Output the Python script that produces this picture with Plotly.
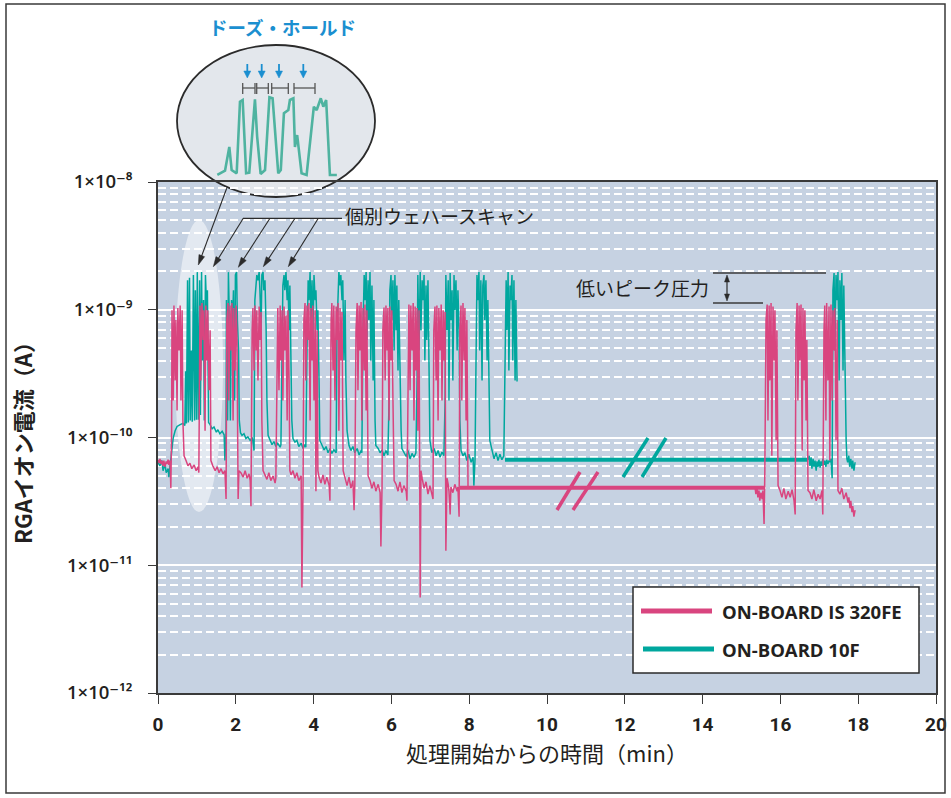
import math
import plotly.graph_objects as go

# ---------------- data (time in min, current in units of 1e-10 A) ----------------
UNIT = 1e-10

teal_main = [
    (0.00,0.64),(0.05,0.60),(0.10,0.66),(0.13,0.55),(0.18,0.62),(0.21,0.53),(0.26,0.57),(0.28,0.49),(0.31,0.60),
    (0.36,0.79),(0.39,0.99),(0.44,1.13),(0.49,1.22),(0.57,1.26),(0.64,1.29),(0.69,1.24),
    (0.71,3.3),(0.73,1.29),(0.76,17),(0.78,1.31),(0.81,17.8),(0.83,1.36),(0.86,4.8),(0.88,1.33),(0.91,18.7),(0.94,1.36),
    (0.96,14.2),(0.99,1.38),(1.01,19.7),(1.04,1.38),(1.07,17),(1.09,1.5),(1.12,19.7),(1.14,4.0),(1.17,11.9),(1.19,1.36),
    (1.22,18.7),(1.25,9.9),(1.27,14.2),(1.30,1.31),
    (1.34,1.26),(1.39,1.17),(1.44,1.21),(1.50,1.10),(1.54,1.15),(1.59,1.07),(1.65,1.12),(1.70,1.05),(1.72,0.66),(1.75,1.12),
    (1.76,11.9),(1.79,1.36),(1.81,19.7),(1.84,6.9),(1.86,1.36),(1.89,11.9),(1.91,6.9),(1.94,14.2),(1.97,1.95),(1.99,18.7),
    (2.02,19.7),(2.04,8.3),(2.07,4.8),(2.09,1.36),(2.12,1.09),
    (2.16,1.04),(2.21,1.07),(2.26,0.98),(2.31,1.01),(2.37,0.95),(2.42,1.0),(2.44,0.93),(2.47,0.79),
    (2.49,11.9),(2.52,15.5),(2.54,18.7),(2.57,17),(2.60,19.7),(2.62,14.2),(2.65,6.9),(2.67,18.7),(2.70,19.7),(2.72,14.2),
    (2.75,17),(2.78,6.9),(2.80,1.95),(2.83,1.04),
    (2.88,0.95),(2.93,0.88),(2.98,0.93),(3.03,0.85),(3.08,0.9),(3.14,0.84),(3.16,0.88),
    (3.19,6.9),(3.21,15.5),(3.24,18.7),(3.26,14.2),(3.29,19.7),(3.32,11.9),(3.34,17),(3.37,6.9),(3.39,15.5),(3.42,4.8),
    (3.44,1.36),(3.47,0.98),
    (3.52,0.92),(3.57,0.95),(3.62,0.85),(3.68,0.9),(3.73,0.82),(3.78,0.88),(3.80,0.84),
    (3.83,4.8),(3.86,17),(3.88,11.9),(3.91,19.7),(3.93,8.3),(3.96,17),(3.98,5.8),(4.01,18.7),(4.04,11.9),(4.06,14.2),
    (4.09,6.9),(4.11,9.9),(4.14,2.8),(4.16,0.95),
    (4.22,0.865),(4.27,0.80),(4.32,0.85),(4.37,0.76),(4.42,0.82),(4.47,0.75),(4.52,0.80),(4.58,0.76),
    (4.60,6.9),(4.63,14.2),(4.65,19.7),(4.68,15.5),(4.70,18.7),(4.73,11.9),(4.75,17),(4.78,4.0),(4.81,11.9),(4.83,2.8),(4.86,1.13),
    (4.91,0.865),(4.96,0.79),(5.01,0.85),(5.06,0.76),(5.12,0.82),(5.17,0.73),(5.22,0.79),(5.24,0.76),
    (5.27,6.9),(5.30,18.7),(5.32,11.9),(5.35,19.7),(5.37,5.8),(5.40,17),(5.42,8.3),(5.45,19.7),(5.47,4.0),(5.50,15.5),
    (5.53,2.8),(5.55,11.9),(5.58,1.36),(5.60,0.865),
    (5.66,0.82),(5.71,0.76),(5.76,0.80),(5.81,0.72),(5.86,0.79),(5.91,0.73),
    (5.94,1.95),(5.96,14.2),(5.99,18.7),(6.01,8.3),(6.04,17),(6.07,4.8),(6.09,18.7),(6.12,6.9),(6.14,15.5),(6.17,3.35),
    (6.19,11.9),(6.22,2.8),(6.25,1.13),(6.27,0.82),
    (6.32,0.76),(6.38,0.71),(6.43,0.79),(6.48,0.68),(6.53,0.75),(6.58,0.70),(6.63,0.76),
    (6.66,2.8),(6.68,18.7),(6.71,4.8),(6.74,19.7),(6.76,6.9),(6.79,17),(6.81,11.9),(6.84,18.7),(6.86,4.0),(6.89,15.5),
    (6.91,5.8),(6.94,17),(6.96,2.8),(6.99,0.95),
    (7.04,0.76),(7.10,0.82),(7.15,0.72),(7.20,0.79),(7.25,0.70),(7.30,0.77),(7.35,0.72),
    (7.38,1.95),(7.40,18.7),(7.43,6.9),(7.46,17),(7.48,1.95),(7.51,19.4),(7.53,8.3),(7.56,14.2),(7.58,2.8),(7.61,18.7),
    (7.63,9.9),(7.66,17),(7.69,4.8),(7.71,14.2),(7.74,6.9),(7.76,1.36),(7.79,0.79),
    (7.84,0.72),(7.89,0.76),(7.94,0.66),(7.99,0.74),(8.05,0.64),(8.10,0.70),(8.12,0.42),(8.15,0.68),
    (8.17,2.8),(8.20,18.7),(8.22,11.9),(8.25,19.7),(8.27,4.8),(8.30,17),(8.33,2.8),(8.35,15.5),(8.38,18.7),(8.40,8.3),
    (8.43,17),(8.46,4.0),(8.48,11.9),(8.51,2.65),(8.53,0.95),
    (8.59,0.79),(8.64,0.68),(8.69,0.76),(8.74,0.66),(8.79,0.74),(8.84,0.67),(8.89,0.72),
    (8.92,4.8),(8.95,17),(8.97,6.9),(9.00,19.7),(9.02,3.35),(9.05,15.5),(9.07,11.9),(9.10,18.7),(9.12,4.0),(9.15,17),
    (9.18,2.8),(9.20,11.9),(9.23,2.74),
]

teal_hold = [(8.92, 0.67), (16.71, 0.67)]

teal_late = [
    (16.71,0.67),(16.74,0.72),(16.76,0.60),(16.79,0.70),(16.81,0.57),(16.84,0.68),(16.86,0.59),(16.89,0.66),(16.92,0.55),
    (16.94,0.65),(16.97,0.59),(16.99,0.67),(17.02,0.58),(17.04,0.65),(17.07,0.60),(17.09,0.68),(17.12,0.61),(17.14,0.66),
    (17.17,0.59),(17.19,0.67),(17.22,0.62),(17.25,0.66),(17.27,0.64),(17.30,0.68),(17.33,0.48),
    (17.35,14.2),(17.38,19.4),(17.40,4.8),(17.43,18.7),(17.46,11.9),(17.48,19.7),(17.51,2.8),(17.53,17),(17.56,8.3),
    (17.58,19.4),(17.61,3.35),(17.63,15.5),(17.66,2.65),(17.69,0.95),
    (17.71,0.68),(17.73,0.64),(17.76,0.72),(17.78,0.59),(17.81,0.68),(17.84,0.57),(17.86,0.66),(17.89,0.55),(17.92,0.64),
]

pink_main = [
    (0.00,0.67),(0.03,0.63),(0.05,0.68),(0.08,0.62),(0.10,0.66),(0.13,0.60),(0.15,0.66),(0.18,0.59),(0.21,0.65),(0.23,0.62),
    (0.26,0.67),(0.28,0.61),(0.31,0.66),(0.33,0.40),(0.35,1.13),
    (0.36,9.9),(0.39,1.95),(0.41,10.8),(0.44,2.8),(0.46,8.3),(0.49,1.63),(0.51,10.3),(0.54,4.8),(0.57,10.8),(0.59,1.95),
    (0.62,9.9),(0.64,1.36),(0.67,0.72),
    (0.72,0.66),(0.77,0.60),(0.82,0.63),(0.87,0.57),(0.93,0.61),(0.98,0.55),(1.03,0.59),(1.05,0.53),
    (1.08,10.8),(1.10,2.8),(1.13,11.3),(1.16,5.8),(1.18,9.9),(1.21,1.13),(1.23,10.8),(1.26,4.0),(1.28,9.9),(1.31,2.34),
    (1.34,6.9),(1.36,0.66),
    (1.41,0.60),(1.47,0.55),(1.52,0.59),(1.57,0.53),(1.62,0.57),(1.67,0.52),(1.72,0.55),(1.75,0.33),
    (1.77,8.3),(1.80,11.3),(1.82,1.95),(1.85,10.8),(1.88,4.8),(1.90,11.3),(1.93,1.36),(1.95,10.3),(1.98,3.35),(2.01,10.8),
    (2.03,5.8),(2.06,0.33),(2.08,0.55),
    (2.13,0.53),(2.19,0.49),(2.24,0.55),(2.29,0.48),(2.34,0.52),(2.37,0.46),(2.39,0.29),
    (2.42,6.9),(2.44,10.3),(2.47,3.35),(2.49,10.8),(2.52,4.8),(2.54,9.9),(2.57,2.8),(2.60,10.6),(2.62,5.8),(2.65,9.6),
    (2.67,1.36),(2.70,0.55),
    (2.75,0.51),(2.80,0.47),(2.85,0.53),(2.90,0.46),(2.96,0.50),(3.01,0.44),(3.03,0.48),
    (3.06,5.8),(3.08,10.3),(3.11,2.34),(3.14,10.8),(3.16,4.0),(3.19,9.9),(3.21,1.95),(3.24,10.6),(3.26,4.8),(3.29,9.0),
    (3.32,1.36),(3.34,9.9),(3.37,2.8),(3.39,0.55),
    (3.42,0.51),(3.47,0.55),(3.52,0.48),(3.57,0.53),(3.62,0.46),(3.68,0.50),(3.70,0.067),(3.73,0.46),
    (3.75,8.3),(3.78,11.3),(3.80,2.8),(3.83,10.8),(3.86,5.8),(3.88,11.3),(3.91,1.36),(3.93,10.3),(3.96,4.0),(3.98,10.8),
    (4.01,1.95),(4.04,9.9),(4.06,0.38),(4.09,6.9),(4.11,0.55),
    (4.14,0.49),(4.19,0.44),(4.24,0.51),(4.29,0.43),(4.34,0.49),(4.40,0.42),(4.42,0.32),
    (4.45,8.3),(4.47,11.3),(4.50,3.35),(4.52,10.8),(4.55,1.95),(4.58,10.6),(4.60,5.8),(4.63,11.3),(4.65,1.13),(4.68,10.3),
    (4.70,4.0),(4.73,9.6),(4.76,0.55),
    (4.81,0.48),(4.86,0.42),(4.91,0.49),(4.96,0.40),(5.01,0.46),(5.04,0.27),(5.06,0.43),
    (5.09,6.9),(5.12,11.3),(5.14,2.34),(5.17,10.8),(5.19,4.8),(5.22,11.5),(5.24,1.36),(5.27,10.3),(5.30,3.35),(5.32,11.0),
    (5.35,1.63),(5.37,9.9),(5.40,0.50),
    (5.45,0.46),(5.50,0.40),(5.55,0.45),(5.60,0.38),(5.66,0.43),(5.71,0.37),(5.73,0.14),(5.76,0.42),
    (5.78,6.9),(5.81,10.4),(5.84,2.8),(5.86,10.8),(5.89,4.8),(5.91,10.3),(5.94,1.36),(5.96,10.6),(5.99,4.0),(6.01,9.9),
    (6.04,1.95),(6.07,0.46),
    (6.12,0.43),(6.17,0.38),(6.22,0.45),(6.27,0.37),(6.32,0.42),(6.38,0.38),(6.40,0.32),
    (6.43,8.3),(6.45,11.0),(6.48,2.34),(6.50,10.8),(6.53,4.8),(6.56,11.3),(6.58,1.36),(6.61,10.6),(6.63,3.35),(6.66,10.3),
    (6.68,1.13),(6.71,9.9),(6.74,0.056),(6.76,0.55),
    (6.79,0.48),(6.84,0.40),(6.89,0.45),(6.94,0.36),(6.99,0.42),(7.04,0.37),(7.07,0.33),
    (7.09,6.9),(7.12,10.6),(7.15,2.8),(7.17,10.8),(7.20,1.36),(7.22,10.3),(7.25,4.8),(7.28,11.0),(7.30,1.95),(7.33,9.9),
    (7.35,4.0),(7.38,9.6),(7.40,0.13),(7.43,0.48),
    (7.46,0.43),(7.48,0.38),(7.51,0.25),(7.53,0.41),(7.58,0.37),(7.63,0.43),(7.69,0.38),(7.71,0.41),(7.74,0.24),
    (7.76,6.9),(7.79,10.8),(7.81,1.95),(7.84,11.3),(7.87,4.0),(7.89,10.3),(7.92,1.36),(7.94,8.3),(7.97,0.405),
]

pink_hold = [(7.76, 0.405), (15.60, 0.405)]

pink_late = [
    (15.35,0.40),(15.37,0.36),(15.40,0.405),(15.42,0.34),(15.45,0.385),(15.47,0.32),(15.50,0.37),(15.53,0.33),(15.55,0.385),
    (15.58,0.21),(15.60,0.55),
    (15.63,8.3),(15.66,11.0),(15.68,1.36),(15.71,10.8),(15.73,2.8),(15.76,11.3),(15.78,0.72),(15.81,10.6),(15.84,4.0),
    (15.86,9.9),(15.89,0.95),(15.91,6.9),(15.94,0.42),
    (15.99,0.385),(16.04,0.34),(16.09,0.40),(16.14,0.33),(16.20,0.38),(16.25,0.34),(16.30,0.39),(16.35,0.32),(16.38,0.25),
    (16.40,6.9),(16.43,11.3),(16.45,1.95),(16.48,10.8),(16.50,4.0),(16.53,11.0),(16.56,0.79),(16.58,10.3),(16.61,2.8),
    (16.63,9.9),(16.66,1.36),(16.68,5.8),(16.71,0.385),
    (16.76,0.37),(16.81,0.33),(16.86,0.39),(16.92,0.32),(16.97,0.36),(17.02,0.33),(17.07,0.385),(17.09,0.25),
    (17.12,6.9),(17.14,10.8),(17.17,1.36),(17.19,11.3),(17.22,2.8),(17.25,10.6),(17.27,0.66),(17.30,11.0),(17.33,1.95),
    (17.35,9.9),(17.38,4.8),(17.40,10.3),(17.43,0.95),(17.46,8.3),(17.48,0.385),
    (17.53,0.36),(17.58,0.40),(17.63,0.33),(17.69,0.37),(17.74,0.31),(17.76,0.34),(17.79,0.28),(17.81,0.32),(17.84,0.26),
    (17.86,0.29),(17.89,0.24),(17.92,0.27),
]

# zoomed inset ("dose / hold"), time in s, current in 1e-10 A
inset_trace = [
    (1.05,1.21),(3.5,1.42),(4.86,3.5),(5.6,1.46),(7.2,1.29),(8.25,19.5),(9.1,20.8),(10.2,1.29),(11.2,1.32),(13.0,21.3),
    (13.7,5.2),(14.8,1.26),(16.2,1.46),(17.6,23.0),(18.6,22.2),(20.4,1.29),(21.2,1.46),(22.2,12.6),(23.6,14.2),(24.1,20.8),
    (25.2,22.2),(25.7,3.5),(26.4,5.5),(27.8,1.29),(29.4,1.21),(31.7,16.1),(32.6,14.2),(33.9,22.2),(34.7,16.1),(35.6,20.8),
    (36.8,1.21),(39.0,1.21),
]

x_ticks = list(range(0, 21, 2))
y_tickvals = [1e-12, 1e-11, 1e-10, 1e-9, 1e-8]
y_ticktext = ["1×10⁻¹²", "1×10⁻¹¹", "1×10⁻¹⁰", "1×10⁻⁹", "1×10⁻⁸"]

series_names = ["ON-BOARD IS 320FE", "ON-BOARD 10F"]
PINK = "#d9457f"
TEAL = "#00a79e"
INSET_TEAL = "#4fb3a0"
BLUE = "#1b8fd0"
INK = "#231f20"
DARK = "#2b2b2b"
PLOT_BG = "#c6d2e2"

# ---------------- geometry helpers (pixel -> paper) ----------------
W, H = 951, 798
ML, MR, MT, MB = 158, 15, 8, 105
PW, PH = W - ML - MR, H - MT - MB
PLOT_TOP = 182


def X(px):
    return (px - ML) / PW


def Y(py):
    return (H - MB - py) / PH


def split(pairs):
    return [p[0] for p in pairs], [p[1] * UNIT for p in pairs]


def arrow(hx, hy, tx, ty, color, lw, hl, hw):
    dx, dy = hx - tx, hy - ty
    L = math.hypot(dx, dy)
    ux, uy = dx / L, dy / L
    bx, by = hx - ux * hl, hy - uy * hl
    px_, py_ = -uy, ux
    p1 = (bx + px_ * hw / 2, by + py_ * hw / 2)
    p2 = (bx - px_ * hw / 2, by - py_ * hw / 2)
    line = dict(type="line", xref="paper", yref="paper", x0=X(tx), y0=Y(ty), x1=X(bx + ux), y1=Y(by + uy),
                line=dict(color=color, width=lw))
    head = dict(type="path", xref="paper", yref="paper",
                path=f"M {X(hx)},{Y(hy)} L {X(p1[0])},{Y(p1[1])} L {X(p2[0])},{Y(p2[1])} Z",
                fillcolor=color, line=dict(color=color, width=0.5))
    return [line, head]


fig = go.Figure()

for data, col, w in [(teal_main, TEAL, 1.5), (teal_late, TEAL, 1.5), (teal_hold, TEAL, 4)]:
    xs, ys = split(data)
    fig.add_trace(go.Scatter(x=xs, y=ys, mode="lines", line=dict(color=col, width=w),
                             name=series_names[1], showlegend=False, hoverinfo="skip"))
for data, col, w in [(pink_main, PINK, 1.5), (pink_late, PINK, 1.5), (pink_hold, PINK, 4)]:
    xs, ys = split(data)
    fig.add_trace(go.Scatter(x=xs, y=ys, mode="lines", line=dict(color=col, width=w),
                             name=series_names[0], showlegend=False, hoverinfo="skip"))

ix = [p[0] for p in inset_trace]
iy = [p[1] for p in inset_trace]
fig.add_trace(go.Scatter(x=ix, y=iy, xaxis="x2", yaxis="y2", mode="lines",
                         line=dict(color=INSET_TEAL, width=2.6), showlegend=False, hoverinfo="skip"))

main_top = Y(PLOT_TOP)
font_cjk = "Noto Sans CJK JP"
font_num = "Open Sans, DejaVu Sans"
font_cond = "Liberation Sans Narrow, Roboto, Open Sans"

fig.update_layout(
    width=W, height=H,
    margin=dict(l=ML, r=MR, t=MT, b=MB, autoexpand=False),
    paper_bgcolor="white",
    plot_bgcolor="rgba(0,0,0,0)",
    showlegend=False,
    xaxis=dict(range=[0, 20], tickvals=x_ticks, showgrid=False, zeroline=False, automargin=False,
               showline=True, linecolor="#3a3a3a", linewidth=1.5, mirror=True,
               ticks="outside", ticklen=9, tickcolor="#3a3a3a", tickwidth=1.2,
               ticklabelstandoff=4,
               tickfont=dict(family=font_cond, size=19, color=INK, weight=700),
               title=dict(text="処理開始からの時間（min）", standoff=2,
                          font=dict(family=font_cjk, size=22, color=INK)),
               domain=[0, 1]),
    yaxis=dict(type="log", range=[-12, -8], tickvals=y_tickvals, ticktext=y_ticktext, automargin=False,
               domain=[0, main_top], showline=True, linecolor="#3a3a3a", linewidth=1.5, mirror=True,
               ticks="outside", ticklen=8, tickcolor="#3a3a3a", tickwidth=1.2,
               ticklabelstandoff=12,
               tickfont=dict(family=font_num, size=18.5, color=INK, weight=600),
               showgrid=True, gridcolor="white", gridwidth=2, zeroline=False,
               minor=dict(dtick="D1", showgrid=True, gridcolor="white", gridwidth=1.6,
                          griddash="8px,4px", ticks=""),
               title=dict(text="RGAイオン電流（A）", standoff=28,
                          font=dict(family=font_cjk, size=22, color=INK, weight=700))),
    xaxis2=dict(domain=[X(214), X(340)], range=[0, 40], anchor="y2", visible=False, automargin=False),
    yaxis2=dict(domain=[Y(180), Y(95)], type="log", range=[0, 1.4], anchor="x2", visible=False, automargin=False),
)

shapes = []
shapes.append(dict(type="rect", xref="paper", yref="paper", x0=0, x1=1, y0=0, y1=main_top,
                   fillcolor=PLOT_BG, line=dict(width=0), layer="below"))
shapes.append(dict(type="circle", xref="paper", yref="paper", x0=X(175), x1=X(223), y0=Y(512), y1=Y(220),
                   fillcolor="rgba(255,255,255,0.5)", line=dict(width=0), layer="below"))
shapes.append(dict(type="circle", xref="paper", yref="paper", x0=X(177), x1=X(375), y0=Y(197), y1=Y(45),
                   fillcolor="#e3e7ec", line=dict(color=DARK, width=1.8), layer="below"))
shapes.append(dict(type="rect", xref="paper", yref="paper", x0=X(6), x1=X(945), y0=Y(793), y1=Y(4),
                   fillcolor="rgba(0,0,0,0)", line=dict(color="#3a3a3a", width=1.5), layer="above"))

# dose/hold brackets in inset
for a, b in [(242.7, 255), (256.7, 268.3), (271.7, 288.3), (294, 315)]:
    shapes.append(dict(type="line", xref="paper", yref="paper", x0=X(a), x1=X(b), y0=Y(88), y1=Y(88),
                       line=dict(color="#555555", width=1.3)))
    for e in (a, b):
        shapes.append(dict(type="line", xref="paper", yref="paper", x0=X(e), x1=X(e), y0=Y(83), y1=Y(94),
                           line=dict(color="#555555", width=1.3)))
# blue dose arrows
for ax_px in [247.3, 261.7, 279, 303.3]:
    shapes += arrow(ax_px, 78, ax_px, 64, BLUE, 1.8, 7, 7)

# pointer arrows for individual wafer scans
shapes.append(dict(type="line", xref="paper", yref="paper", x0=X(243), x1=X(342), y0=Y(218.3), y1=Y(218.3),
                   line=dict(color=DARK, width=1.2)))
for (hx, hy, tx, ty) in [(198.3, 265, 226.7, 188.3), (213.3, 266.7, 243.3, 218.3), (238.3, 267.3, 270, 218.3),
                         (263.3, 266.7, 295, 218.3), (288.3, 266.7, 318.3, 218.3)]:
    shapes += arrow(hx, hy, tx, ty, DARK, 1.1, 10, 6)

# low peak pressure guide lines + double arrow
shapes.append(dict(type="line", xref="paper", yref="paper", x0=X(713), x1=X(826), y0=Y(273), y1=Y(273),
                   line=dict(color="#3a3a3a", width=1.3)))
shapes.append(dict(type="line", xref="paper", yref="paper", x0=X(713), x1=X(763), y0=Y(303), y1=Y(303),
                   line=dict(color="#3a3a3a", width=1.3)))
shapes += arrow(727, 301, 727, 288, DARK, 1.2, 7, 5)
shapes += arrow(727, 275, 727, 288, DARK, 1.2, 7, 5)

# axis break marks
for (x0, y0, x1, y1) in [(623, 477, 648, 438), (642, 477, 666, 438)]:
    shapes.append(dict(type="line", xref="paper", yref="paper", x0=X(x0), x1=X(x1), y0=Y(y0), y1=Y(y1),
                       line=dict(color=TEAL, width=3.5)))
for (x0, y0, x1, y1) in [(557, 510, 580, 472), (573, 510, 598, 472)]:
    shapes.append(dict(type="line", xref="paper", yref="paper", x0=X(x0), x1=X(x1), y0=Y(y0), y1=Y(y1),
                       line=dict(color=PINK, width=3.5)))
# legend box and samples
shapes.append(dict(type="rect", xref="paper", yref="paper", x0=X(633), x1=X(919), y0=Y(673), y1=Y(587),
                   fillcolor="white", line=dict(color=DARK, width=1.5)))
shapes.append(dict(type="line", xref="paper", yref="paper", x0=X(641), x1=X(712), y0=Y(611), y1=Y(611),
                   line=dict(color=PINK, width=5)))
shapes.append(dict(type="line", xref="paper", yref="paper", x0=X(643), x1=X(714), y0=Y(649), y1=Y(649),
                   line=dict(color=TEAL, width=5)))

annotations = []
annotations.append(dict(text="ドーズ・ホールド", xref="paper", yref="paper", x=X(282), y=Y(27),
                        xanchor="center", yanchor="middle",
                        showarrow=False, font=dict(family=font_cjk, size=18.5, color=BLUE, weight=700)))
annotations.append(dict(text="個別ウェハースキャン", xref="paper", yref="paper", x=X(343), y=Y(215),
                        xanchor="left", yanchor="middle", showarrow=False,
                        font=dict(family=font_cjk, size=19, color=INK)))
annotations.append(dict(text="低いピーク圧力", xref="paper", yref="paper", x=X(642), y=Y(288),
                        xanchor="center", yanchor="middle", showarrow=False,
                        font=dict(family=font_cjk, size=19, color=INK)))
annotations.append(dict(text=series_names[0], xref="paper", yref="paper", x=X(720), y=Y(611),
                        xanchor="left", yanchor="middle", showarrow=False,
                        font=dict(family=font_num, size=18.5, color=INK, weight=700)))
annotations.append(dict(text=series_names[1], xref="paper", yref="paper", x=X(720), y=Y(649),
                        xanchor="left", yanchor="middle", showarrow=False,
                        font=dict(family=font_num, size=18.5, color=INK, weight=700)))

fig.update_layout(shapes=shapes, annotations=annotations)
fig.write_html("out.html", config={"displayModeBar": False},
               post_script="document.body.style.margin='0px';")
